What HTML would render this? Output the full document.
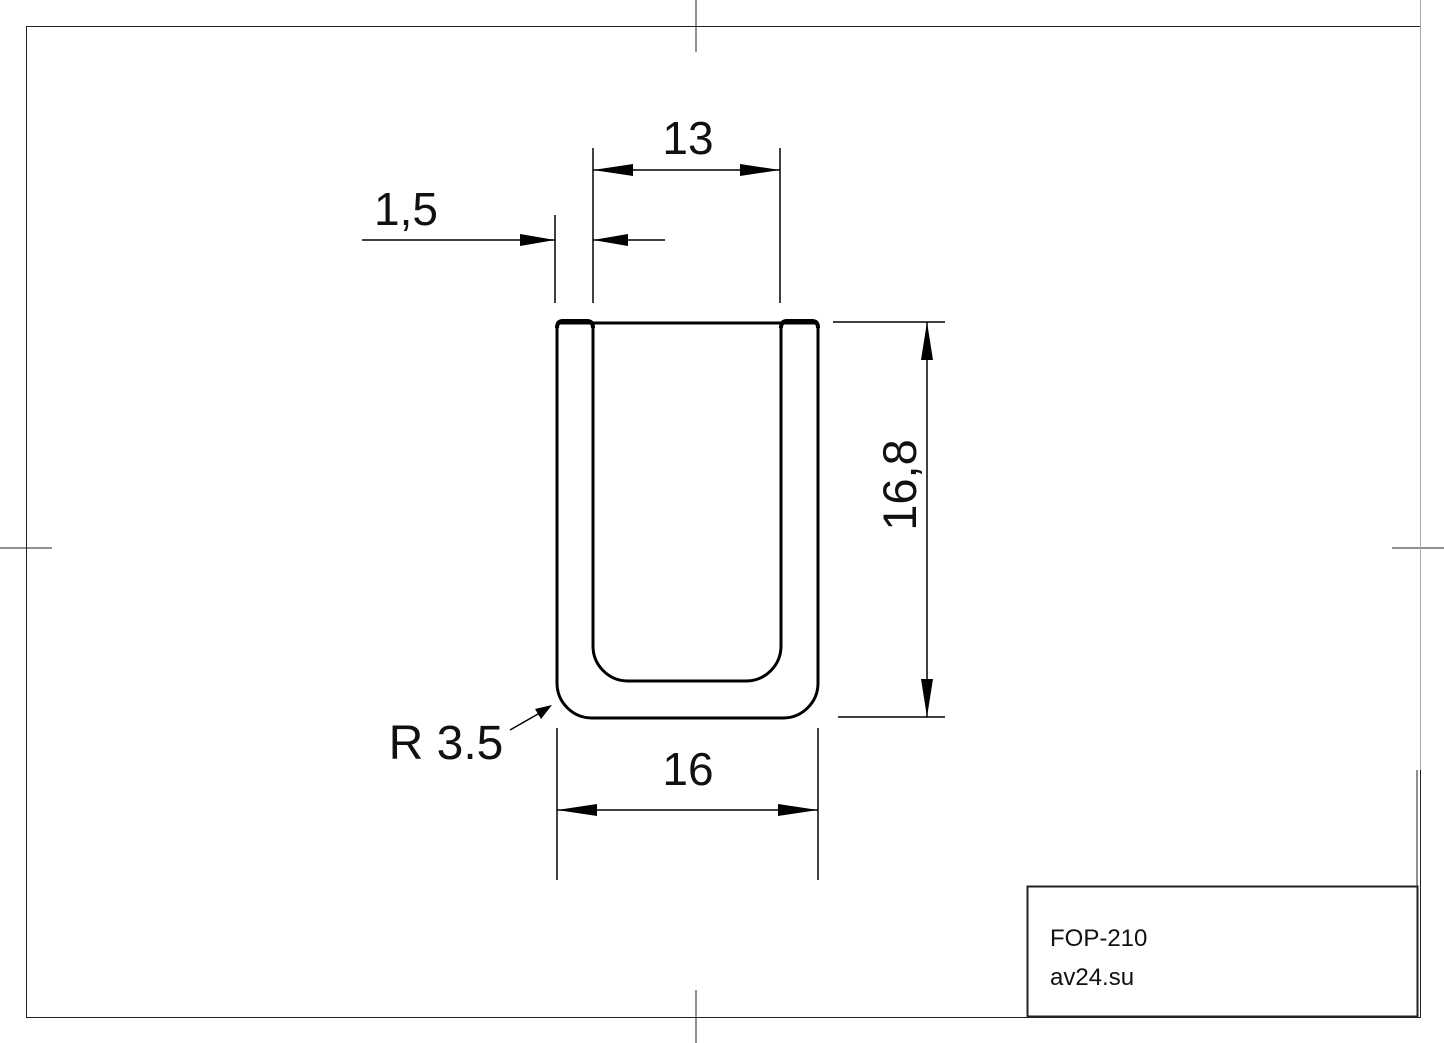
<!DOCTYPE html>
<html><head><style>html,body{margin:0;padding:0;background:#fff;}svg{display:block}</style></head>
<body>
<svg width="1444" height="1043" viewBox="0 0 1444 1043" xmlns="http://www.w3.org/2000/svg" font-family="Liberation Sans, Arial, sans-serif">
<rect width="1444" height="1043" fill="#fff"/>
<g stroke="#222" stroke-width="1" fill="none">
<rect x="26.5" y="26.5" width="1394" height="991"/>
<line x1="696" y1="0" x2="696" y2="52"/>
<line x1="696" y1="990" x2="696" y2="1043"/>
<line x1="0" y1="548" x2="52" y2="548"/>
<line x1="1392" y1="548" x2="1444" y2="548"/>
<line x1="1417" y1="770" x2="1417" y2="1017"/>
<line x1="1420.5" y1="0" x2="1420.5" y2="770" stroke="#aaa"/>
</g>
<rect x="1027.5" y="886.5" width="390" height="130" fill="none" stroke="#222" stroke-width="2"/>
<text x="1050" y="946" font-size="24" fill="#111">FOP-210</text>
<text x="1050" y="985" font-size="24" fill="#111">av24.su</text>
<g stroke="#000" stroke-width="3" fill="none" stroke-linejoin="round">
<path d="M557 326 L557 683 A35 35 0 0 0 592 718 L783 718 A35 35 0 0 0 818 683 L818 326"/>
<path d="M593 326 L593 646 A35 35 0 0 0 628 681 L746 681 A35 35 0 0 0 781 646 L781 326"/>
<line x1="557" y1="323" x2="818" y2="323"/>
<path d="M557 328 Q557 321 563 321 L587 321 Q593 321 593 328" stroke-width="4"/>
<path d="M781 328 Q781 321 787 321 L812 321 Q818 321 818 328" stroke-width="4"/>
</g>
<g stroke="#000" stroke-width="1.5" fill="none">
<line x1="593" y1="148" x2="593" y2="303"/>
<line x1="780" y1="148" x2="780" y2="303"/>
<line x1="593" y1="170" x2="780" y2="170"/>
<line x1="555" y1="215" x2="555" y2="303"/>
<line x1="362" y1="240" x2="555" y2="240"/>
<line x1="593" y1="240" x2="665" y2="240"/>
<line x1="833" y1="322" x2="945" y2="322"/>
<line x1="838" y1="717" x2="945" y2="717"/>
<line x1="927" y1="322" x2="927" y2="717"/>
<line x1="557" y1="728" x2="557" y2="880"/>
<line x1="818" y1="728" x2="818" y2="880"/>
<line x1="557" y1="810" x2="818" y2="810"/>
<line x1="510" y1="730" x2="545" y2="710"/>
</g>
<g fill="#000">
<polygon points="593,170 633,164 633,176"/>
<polygon points="780,170 740,164 740,176"/>
<polygon points="555,240 520,234 520,246"/>
<polygon points="593,240 628,234 628,246"/>
<polygon points="927,322 921,360 933,360"/>
<polygon points="927,717 921,679 933,679"/>
<polygon points="557,810 597,804 597,816"/>
<polygon points="818,810 778,804 778,816"/>
<polygon points="552,705 535,709 541,719"/>
</g>
<g font-size="46" fill="#111">
<text x="688" y="154" text-anchor="middle">13</text>
<text x="406" y="225" text-anchor="middle">1,5</text>
<text x="688" y="785" text-anchor="middle">16</text>
<text x="446" y="759" text-anchor="middle" font-size="48">R 3.5</text>
<text transform="translate(916,485) rotate(-90)" text-anchor="middle" font-size="47">16,8</text>
</g>
</svg>
</body></html>
